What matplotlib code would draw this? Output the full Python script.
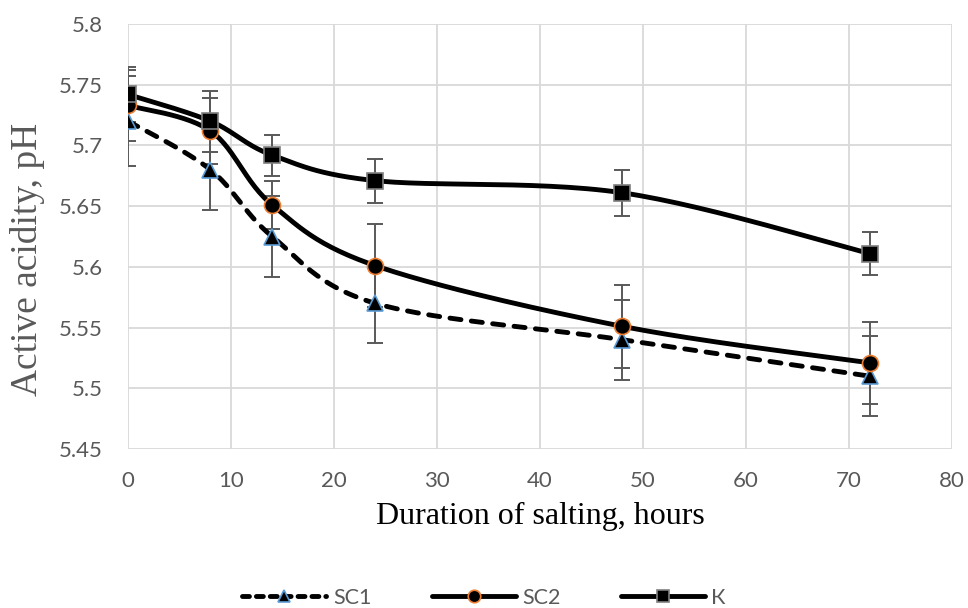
import numpy as np
import matplotlib
matplotlib.use("Agg")
import matplotlib.pyplot as plt
from matplotlib.lines import Line2D

hours = [0, 8, 14, 24, 48, 72]

sc1 = [5.72, 5.68, 5.625, 5.57, 5.54, 5.51]
sc1_err = [0.037, 0.033, 0.033, 0.033, 0.033, 0.033]

sc2 = [5.733, 5.712, 5.651, 5.601, 5.551, 5.521]
sc2_err = [0.029, 0.027, 0.020, 0.034, 0.034, 0.034]

k = [5.742, 5.72, 5.692, 5.671, 5.661, 5.611]
k_err = [0.023, 0.025, 0.017, 0.018, 0.019, 0.018]

labels = ["SC1", "SC2", "К"]

XMIN, XMAX = 0, 80
YMIN, YMAX = 5.45, 5.8
GRAY = "#595959"

plt.rcParams["lines.scale_dashes"] = False


def smooth(x, y, w=824.0, h=427.0, n=30):
    # excel-like smoothed line (catmull-rom through the points, in pixel space)
    px = np.array(x, float) * w / (XMAX - XMIN)
    py = (np.array(y, float) - YMIN) * h / (YMAX - YMIN)
    P = np.column_stack([px, py])
    out = [P[0]]
    t = np.linspace(0, 1, n)[1:]
    for i in range(len(P) - 1):
        p0 = P[i - 1] if i > 0 else P[i]
        p1 = P[i]
        p2 = P[i + 1]
        p3 = P[i + 2] if i + 2 < len(P) else P[i + 1]
        c1 = p1 + (p2 - p0) / 6.0
        c2 = p2 - (p3 - p1) / 6.0
        for tt in t:
            b = ((1 - tt) ** 3) * p1 + 3 * ((1 - tt) ** 2) * tt * c1 \
                + 3 * (1 - tt) * tt ** 2 * c2 + tt ** 3 * p2
            out.append(b)
    out = np.array(out)
    return out[:, 0] * (XMAX - XMIN) / w, out[:, 1] * (YMAX - YMIN) / h + YMIN


fig = plt.figure(figsize=(9.68, 6.08), dpi=100)
ax = fig.add_axes([128 / 968, 1 - 449 / 608, (952 - 128) / 968, (449 - 24) / 608])

lw = 3.5
dash = (0, (8, 7.5))
series = [
    (sc1, sc1_err, "^", "#5B9BD5", dash),
    (sc2, sc2_err, "o", "#ED7D31", "-"),
    (k, k_err, "s", "#7F7F7F", "-"),
]

handles = []
for (vals, err, mk, edge, ls), lab in zip(series, labels):
    ax.errorbar(hours, vals, yerr=err, fmt="none", ecolor=GRAY,
                elinewidth=1.4, capsize=5.8, capthick=1.4, zorder=2)
    sx, sy = smooth(hours, vals)
    ax.plot(sx, sy, color="black", lw=lw, linestyle=ls,
            solid_capstyle="round", dash_capstyle="round", zorder=3)
    ax.plot(hours, vals, linestyle="none", marker=mk, markersize=11.5,
            markerfacecolor="black", markeredgecolor=edge,
            markeredgewidth=1.2, zorder=4)
    handles.append(Line2D([0], [0], color="black", lw=lw,
                          linestyle=(0, (5, 5)) if ls is dash else ls,
                          dash_capstyle="round", solid_capstyle="round",
                          marker=mk, markersize=9, markerfacecolor="black",
                          markeredgecolor=edge, markeredgewidth=1.2))

ax.set_xlim(XMIN, XMAX)
ax.set_ylim(YMIN, YMAX)
ax.set_xticks(np.arange(0, 81, 10))
ax.set_yticks(np.round(np.arange(5.45, 5.801, 0.05), 2))
ax.set_yticklabels(["5.45", "5.5", "5.55", "5.6", "5.65", "5.7", "5.75", "5.8"])
ax.grid(True, color="#D9D9D9", lw=1.3)
ax.set_axisbelow(True)
for s in ax.spines.values():
    s.set_visible(False)
ax.tick_params(length=0, labelsize=16, labelcolor=GRAY)
ax.tick_params(axis="x", pad=16)
ax.tick_params(axis="y", pad=18)
for t in ax.get_xticklabels() + ax.get_yticklabels():
    t.set_family("Lato")

fig.text(540 / 968, 1 - 524 / 608, "Duration of salting, hours",
         family="Liberation Serif", fontsize=23, color="black",
         ha="center", va="baseline")
fig.text(37 / 968, 1 - 259 / 608, "Active acidity, pH",
         family="Liberation Serif", fontsize=27, color=GRAY,
         rotation=90, rotation_mode="anchor", ha="center", va="baseline")

leg = fig.legend(handles, labels, loc="center", bbox_to_anchor=(0.5, 1 - 598 / 608),
                 ncol=3, frameon=False, handlelength=3.9, columnspacing=2.8,
                 handletextpad=0.3, prop={"family": "Lato", "size": 15.5})
for t in leg.get_texts():
    t.set_color(GRAY)

fig.savefig("out.png", dpi=100)
